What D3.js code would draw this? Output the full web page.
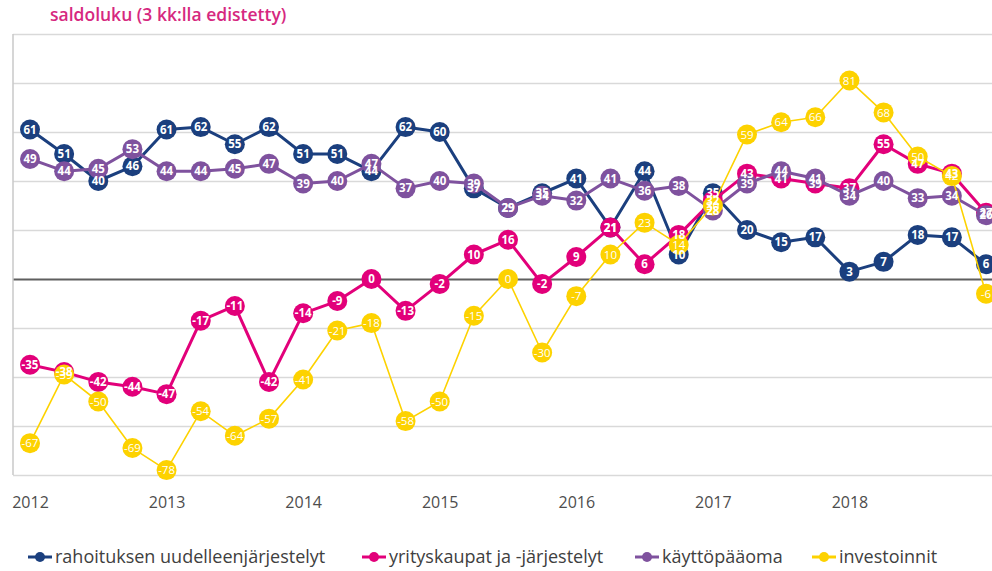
<!DOCTYPE html>
<html lang="fi">
<head>
  <meta charset="UTF-8">
  <title>saldoluku</title>
  <style>
    body { margin: 0; background: #fff; font-family: "Open Sans", sans-serif; }
  </style>
  <script src="https://d3js.org/d3.v7.min.js"></script>
</head>
<body>
  <div id="chart"></div>
  <script>
    // quarterly data 2012Q1 .. 2019Q1
    const years = ["2012", "2013", "2014", "2015", "2016", "2017", "2018"];
    const rahoitus = [61, 51, 40, 46, 61, 62, 55, 62, 51, 51, 44, 62, 60, 37, 29, 35, 41, 21, 44, 10, 35, 20, 15, 17, 3, 7, 18, 17, 6];
    const yrityskaupat = [-35, -38, -42, -44, -47, -17, -11, -42, -14, -9, 0, -13, -2, 10, 16, -2, 9, 21, 6, 18, 32, 43, 41, 39, 37, 55, 47, 43, 27];
    const kayttopaaoma = [49, 44, 45, 53, 44, 44, 45, 47, 39, 40, 47, 37, 40, 39, 29, 34, 32, 41, 36, 38, 28, 39, 44, 41, 34, 40, 33, 34, 26];
    const investoinnit = [-67, -39, -50, -69, -78, -54, -64, -57, -41, -21, -18, -58, -50, -15, 0, -30, -7, 10, 23, 14, 30, 59, 64, 66, 81, 68, 50, 42, -6];

    const series = [
      {name: "rahoituksen uudelleenjärjestelyt", values: rahoitus, color: "#1b3f7e", lw: 3, bold: true},
      {name: "yrityskaupat ja -järjestelyt", values: yrityskaupat, color: "#e2007a", lw: 3, bold: true},
      {name: "käyttöpääoma", values: kayttopaaoma, color: "#7f529e", lw: 3, bold: true},
      {name: "investoinnit", values: investoinnit, color: "#fdd200", lw: 1.6, bold: false}
    ];

    const W = 992, H = 571;
    const plot = {left: 13, top: 34, bottom: 475};

    const svg = d3.select("#chart").append("svg")
      .attr("width", W).attr("height", H);

    const x = d3.scaleLinear().domain([0, 28]).range([30, 986]);
    const y = d3.scaleLinear().domain([-80, 100]).range([plot.bottom, plot.top]);

    // title
    svg.append("text")
      .attr("x", 50).attr("y", 21)
      .attr("fill", "#d6287f")
      .attr("font-size", 17.5)
      .attr("font-weight", 600)
      .text("saldoluku (3 kk:lla edistetty)");

    // gridlines
    const grid = svg.append("g")
      .attr("transform", `translate(${plot.left},0)`)
      .call(d3.axisLeft(y).tickValues(d3.range(-80, 101, 20)).tickSize(-(W - plot.left)).tickFormat(""));
    grid.select(".domain").remove();
    grid.selectAll(".tick line")
      .attr("stroke", d => d === 0 ? "#5f5f5f" : "#d9d9d9")
      .attr("stroke-width", d => d === 0 ? 2 : 1.3);

    // left frame
    svg.append("line")
      .attr("x1", plot.left).attr("x2", plot.left)
      .attr("y1", plot.top).attr("y2", plot.bottom)
      .attr("stroke", "#c8c8c8").attr("stroke-width", 1.5);

    // x axis labels
    const xa = svg.append("g")
      .attr("transform", `translate(0,${plot.bottom})`)
      .call(d3.axisBottom(x).tickValues(d3.range(0, 25, 4)).tickSize(0).tickPadding(22)
        .tickFormat((d, i) => years[i]));
    xa.select(".domain").remove();
    xa.selectAll("text")
      .attr("font-family", "'Open Sans', sans-serif")
      .attr("font-size", 16)
      .attr("fill", "#4d4d4d");

    const line = d3.line().x((d, i) => x(i)).y(d => y(d));

    series.forEach(s => {
      svg.append("path")
        .datum(s.values)
        .attr("fill", "none")
        .attr("stroke", s.color)
        .attr("stroke-width", s.lw)
        .attr("stroke-linejoin", "round")
        .attr("d", line);
      svg.append("g").selectAll("circle")
        .data(s.values)
        .join("circle")
        .attr("cx", (d, i) => x(i))
        .attr("cy", d => y(d))
        .attr("r", 10)
        .attr("fill", s.color);
    });

    // data labels on top
    series.forEach(s => {
      svg.append("g").selectAll("text")
        .data(s.values)
        .join("text")
        .attr("x", (d, i) => x(i))
        .attr("y", d => y(d))
        .attr("dy", "0.36em")
        .attr("text-anchor", "middle")
        .attr("font-size", 11.5)
        .attr("font-weight", s.bold ? "bold" : "normal")
        .attr("fill", "#fff")
        .text(d => d);
    });

    // legend
    const legendX = [28, 362, 635, 812];
    const lg = svg.append("g").attr("transform", "translate(0,557)");
    series.forEach((s, i) => {
      const g = lg.append("g").attr("transform", `translate(${legendX[i]},0)`);
      g.append("line").attr("x1", 0).attr("x2", 24).attr("stroke", s.color).attr("stroke-width", 3);
      g.append("circle").attr("cx", 12).attr("r", 5).attr("fill", s.color);
      g.append("text")
        .attr("x", 27).attr("dy", "0.35em")
        .attr("font-size", 18)
        .attr("fill", "#404040")
        .text(s.name);
    });
  </script>
</body>
</html>
